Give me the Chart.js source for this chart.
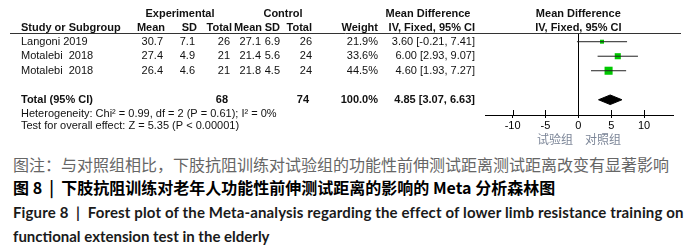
<!DOCTYPE html>
<html>
<head>
<meta charset="utf-8">
<script src="https://cdn.jsdelivr.net/npm/chart.js@4.4.1/dist/chart.umd.min.js"></script>
<style>
  body { margin: 0; background: #fff; width: 700px; height: 251px; overflow: hidden; position: relative; }
  #wrap { position: absolute; left: 0; top: 0; width: 700px; height: 150px; }
  .cap { position: absolute; left: 13px; white-space: nowrap; line-height: 20px; }
  #c1 { top: 152px; font: 16px "Noto Sans CJK SC"; color: #666; letter-spacing: 0; }
  #c2 { top: 175px; font: bold 16px "Noto Sans CJK SC"; color: #000; }
  #c3 { top: 203px; font: bold 15px Lato; color: #1a1a1a; letter-spacing: 0.14px; }
  #c4 { top: 227px; font: bold 15px Lato; color: #1a1a1a; }
</style>
</head>
<body>
<div id="wrap"><canvas id="forest" width="700" height="150"></canvas></div>
<div class="cap" id="c1">图注：与对照组相比，下肢抗阻训练对试验组的功能性前伸测试距离测试距离改变有显著影响</div>
<div class="cap" id="c2">图 8 &nbsp;|&nbsp; 下肢抗阻训练对老年人功能性前伸测试距离的影响的 Meta 分析森林图</div>
<div class="cap" id="c3">Figure 8 &nbsp;|&nbsp; Forest plot of the Meta-analysis regarding the effect of lower limb resistance training on</div>
<div class="cap" id="c4">functional extension test in the elderly</div>
<script>
// study data
var studies  = ['Langoni 2019', 'Motalebi  2018', 'Motalebi  2018'];
var expMean  = ['30.7', '27.4', '26.4'];
var expSD    = ['7.1', '4.9', '4.6'];
var expN     = [26, 21, 21];
var ctlMean  = ['27.1', '21.4', '21.8'];
var ctlSD    = ['6.9', '5.6', '4.5'];
var ctlN     = [26, 24, 24];
var weights  = [21.9, 33.6, 44.5];
var md       = [3.60, 6.00, 4.60];
var ciLow    = [-0.21, 2.93, 1.93];
var ciHigh   = [7.41, 9.07, 7.27];

var totalMd = 4.85, totalLow = 3.07, totalHigh = 6.63;
var totalExpN = 68, totalCtlN = 74;
var heterogeneity = 'Heterogeneity: Chi\u00b2 = 0.99, df = 2 (P = 0.61); I\u00b2 = 0%';
var overallTest = 'Test for overall effect: Z = 5.35 (P < 0.00001)';

var xTicks = [-10, -5, 0, 5, 10];
var favours = '试验组\u3000对照组';

var totalRow = studies.length + 2;
var fmt = function (v) { return v.toFixed(2); };

var datasets = [];
studies.forEach(function (s, i) {
    datasets.push({
        type: 'line',
        data: [{x: ciLow[i], y: i + 1}, {x: ciHigh[i], y: i + 1}],
        borderColor: '#222',
        borderWidth: 1,
        pointRadius: 0,
        showLine: true
    });
});
datasets.push({
    type: 'scatter',
    data: md.map(function (v, i) { return {x: v, y: i + 1}; }),
    pointStyle: 'rect',
    pointRadius: weights.map(function (w) { return w * 0.128; }),
    backgroundColor: '#00c800',
    borderColor: '#00c800',
    borderWidth: 0
});
datasets.push({
    type: 'line',
    data: [
        {x: totalLow, y: totalRow},
        {x: totalMd, y: totalRow - 0.33},
        {x: totalHigh, y: totalRow},
        {x: totalMd, y: totalRow + 0.33},
        {x: totalLow, y: totalRow}
    ],
    borderColor: '#000',
    borderWidth: 1,
    backgroundColor: '#000',
    fill: 'shape',
    pointRadius: 0,
    tension: 0,
    showLine: true
});

var tablePlugin = {
    id: 'table',
    afterDraw: function (chart) {
        var ctx = chart.ctx;
        var xs = chart.scales.x, ys = chart.scales.y;
        var top = chart.chartArea.top, axisY = chart.chartArea.bottom;
        ctx.save();
        // header rule
        ctx.strokeStyle = '#333';
        ctx.lineWidth = 1;
        ctx.beginPath();
        ctx.moveTo(10, top + 0.5);
        ctx.lineTo(681, top + 0.5);
        ctx.stroke();
        // upper half of tick marks
        ctx.strokeStyle = '#000';
        xTicks.forEach(function (t) {
            var px = Math.round(xs.getPixelForValue(t)) + 0.5;
            ctx.beginPath();
            ctx.moveTo(px, axisY - 5);
            ctx.lineTo(px, axisY);
            ctx.stroke();
        });

        var reg = '11px "Liberation Sans"', bold = 'bold 11px "Liberation Sans"';
        ctx.fillStyle = '#111';
        ctx.textBaseline = 'middle';
        function txt(s, x, y, align, font) {
            ctx.font = font || reg;
            ctx.textAlign = align || 'left';
            ctx.fillText(s, x, y);
        }
        // headers
        txt('Experimental', 180, top - 19, 'center', bold);
        txt('Control', 283, top - 19, 'center', bold);
        txt('Mean Difference', 428, top - 19, 'center', bold);
        txt('Mean Difference', xs.getPixelForValue(0), top - 19, 'center', bold);
        txt('Study or Subgroup', 21, top - 5, 'left', bold);
        txt('Mean', 165, top - 5, 'right', bold);
        txt('SD', 197, top - 5, 'right', bold);
        txt('Total', 232, top - 5, 'right', bold);
        txt('Mean', 262, top - 5, 'right', bold);
        txt('SD', 280, top - 5, 'right', bold);
        txt('Total', 312, top - 5, 'right', bold);
        txt('Weight', 378, top - 5, 'right', bold);
        txt('IV, Fixed, 95% CI', 475, top - 5, 'right', bold);
        txt('IV, Fixed, 95% CI', xs.getPixelForValue(0), top - 5, 'center', bold);
        // study rows
        studies.forEach(function (s, i) {
            var y = ys.getPixelForValue(i + 1);
            txt(s, 21, y);
            txt(expMean[i], 163, y, 'right');
            txt(expSD[i], 195, y, 'right');
            txt(String(expN[i]), 230, y, 'right');
            txt(ctlMean[i], 261, y, 'right');
            txt(ctlSD[i], 280, y, 'right');
            txt(String(ctlN[i]), 312, y, 'right');
            txt(weights[i].toFixed(1) + '%', 378, y, 'right');
            txt(fmt(md[i]) + ' [' + fmt(ciLow[i]) + ', ' + fmt(ciHigh[i]) + ']', 475, y, 'right');
        });
        // total row
        var ty = ys.getPixelForValue(totalRow);
        txt('Total (95% CI)', 21, ty, 'left', bold);
        txt(String(totalExpN), 228, ty, 'right', bold);
        txt(String(totalCtlN), 309, ty, 'right', bold);
        txt('100.0%', 378, ty, 'right', bold);
        txt(fmt(totalMd) + ' [' + fmt(totalLow) + ', ' + fmt(totalHigh) + ']', 475, ty, 'right', bold);
        txt(heterogeneity, 21, ys.getPixelForValue(totalRow + 0.95));
        txt(overallTest, 21, ys.getPixelForValue(totalRow + 1.8));
        ctx.restore();
    }
};

new Chart(document.getElementById('forest'), {
    type: 'scatter',
    data: { datasets: datasets },
    options: {
        responsive: false,
        animation: false,
        layout: { padding: { left: 485, right: 27, top: 33, bottom: 0 } },
        plugins: { legend: { display: false }, tooltip: { enabled: false } },
        scales: {
            x: {
                type: 'linear',
                min: -14.2,
                max: 14.4,
                afterBuildTicks: function (s) { s.ticks = xTicks.map(function (v) { return {value: v}; }); },
                afterFit: function (s) { s.height = 35; },
                border: { display: true, color: '#000', width: 1 },
                grid: {
                    drawOnChartArea: true,
                    color: function (c) { return c.tick && c.tick.value === 0 ? '#000' : 'rgba(0,0,0,0)'; },
                    tickColor: '#000',
                    tickLength: 3
                },
                ticks: { color: '#000', padding: 1, font: { family: 'Liberation Sans', size: 11 } },
                title: {
                    display: true,
                    text: favours,
                    color: '#7b8597',
                    font: { family: 'Noto Sans CJK SC', size: 12 },
                    padding: { top: 1, bottom: 3.5 }
                }
            },
            y: { type: 'linear', display: false, reverse: true, min: 0.4, max: 6.05 }
        }
    },
    plugins: [tablePlugin]
});
</script>
</body>
</html>
